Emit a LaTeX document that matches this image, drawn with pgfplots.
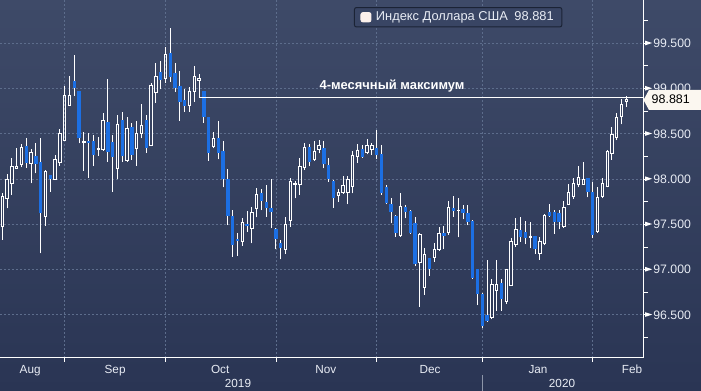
\documentclass[border=0pt]{standalone}
\usepackage{fontspec}
\setmainfont{Liberation Sans}
\usepackage{pgfplots}
\usepackage{pgfplotstable}
\pgfplotsset{compat=1.18}
\definecolor{bgtop}{HTML}{3E4A68}
\definecolor{bgbot}{HTML}{2A3554}
\definecolor{gridc}{HTML}{5D6D8C}
\definecolor{candleblue}{HTML}{1C6FE3}
\definecolor{txt}{HTML}{E8ECF4}
\definecolor{legsq}{HTML}{FCF1EC}
\definecolor{legfill}{HTML}{394564}
\definecolor{legdraw}{HTML}{1B2335}
\definecolor{tagfill}{HTML}{FBF7F0}
\definecolor{sepc}{HTML}{8C95A8}

\pgfplotstableread{
x O H L C
0 97.474 97.842 97.327 97.806
1 97.787 98.056 97.677 97.990
2 97.953 98.229 97.824 98.137
3 98.122 98.347 98.119 98.144
4 98.163 98.387 98.130 98.347
5 98.365 98.450 98.126 98.181
6 98.174 98.329 97.953 98.292
7 98.255 98.395 98.063 98.163
8 98.185 98.457 97.180 97.629
9 97.585 98.100 97.485 98.082
10 98.045 98.045 97.861 97.997
11 97.997 98.266 97.997 98.211
12 98.181 98.549 98.148 98.505
13 98.424 99.028 98.424 98.918
14 98.818 99.139 98.807 98.918
15 99.084 99.371 98.918 99.002
16 98.973 98.973 98.395 98.450
17 98.402 98.524 98.093 98.413
18 98.421 98.505 98.016 98.395
19 98.421 98.487 98.144 98.266
20 98.329 98.469 98.255 98.336
21 98.329 98.734 98.310 98.642
22 98.627 99.102 98.192 98.303
23 98.413 98.487 97.861 98.247
24 98.119 98.708 97.996 98.605
25 98.653 98.737 98.192 98.255
26 98.203 98.690 98.192 98.561
27 98.572 98.616 98.211 98.266
28 98.340 98.642 98.148 98.505
29 98.505 98.829 98.450 98.590
30 98.653 98.708 98.292 98.340
31 98.376 99.065 98.365 99.039
32 98.958 99.286 98.844 99.131
33 99.187 99.308 98.991 99.095
34 99.113 99.463 99.065 99.378
35 99.389 99.665 99.076 99.131
36 99.168 99.279 98.966 99.010
37 99.028 99.194 98.645 98.855
38 98.874 98.991 98.745 98.807
39 98.818 99.021 98.745 98.973
40 98.973 99.249 98.855 99.131
41 99.087 99.161 98.900 99.113
42 98.973 98.973 98.623 98.690
43 98.690 98.690 98.203 98.292
44 98.358 98.524 98.340 98.450
45 98.450 98.641 98.218 98.284
46 98.310 98.420 97.909 97.997
47 97.997 98.107 97.492 97.595
48 97.592 97.658 97.142 97.271
49 97.338 97.400 97.150 97.319
50 97.308 97.573 97.264 97.522
51 97.503 97.647 97.419 97.485
52 97.456 97.695 97.290 97.632
53 97.677 97.897 97.577 97.831
54 97.842 97.886 97.658 97.761
55 97.743 97.934 97.584 97.684
56 97.677 97.997 97.456 97.640
57 97.448 97.463 97.224 97.338
58 97.290 97.327 97.113 97.235
59 97.224 97.577 97.172 97.500
60 97.548 98.008 97.474 97.978
61 97.938 97.978 97.787 97.953
62 97.942 98.229 97.824 98.144
63 98.126 98.402 98.100 98.351
64 98.358 98.387 98.144 98.192
65 98.218 98.420 98.203 98.310
66 98.329 98.432 98.284 98.369
67 98.340 98.421 98.119 98.163
68 98.155 98.229 97.971 98.000
69 97.979 97.990 97.684 97.787
70 97.817 97.886 97.750 97.853
71 97.850 98.034 97.842 97.927
72 97.850 98.034 97.724 97.990
73 97.923 98.310 97.842 98.266
74 98.247 98.387 98.181 98.321
75 98.332 98.376 98.236 98.247
76 98.292 98.439 98.273 98.376
77 98.328 98.402 98.266 98.376
78 98.340 98.542 98.218 98.266
79 98.277 98.376 97.824 97.850
80 97.908 97.934 97.724 97.732
81 97.721 97.787 97.511 97.640
82 97.592 97.600 97.363 97.408
83 97.382 97.842 97.363 97.695
84 97.695 97.713 97.566 97.640
85 97.647 97.658 97.400 97.408
86 97.511 97.584 97.039 97.061
87 97.076 97.400 96.590 97.389
88 96.804 97.235 96.719 97.168
89 97.124 97.130 96.929 97.002
90 97.135 97.297 97.087 97.223
91 97.227 97.474 97.209 97.400
92 97.408 97.481 97.227 97.374
93 97.411 97.757 97.382 97.687
94 97.676 97.813 97.584 97.651
95 97.651 97.787 97.356 97.658
96 97.665 97.713 97.555 97.629
97 97.629 97.713 97.492 97.529
98 97.536 97.548 96.903 96.910
99 97.002 97.010 96.608 96.730
100 96.730 96.740 96.350 96.380
101 96.498 97.105 96.424 96.435
102 96.472 96.892 96.450 96.837
103 96.774 97.105 96.546 96.837
104 96.855 96.896 96.546 96.671
105 96.645 97.006 96.619 97.006
106 96.822 97.345 96.822 97.308
107 97.279 97.573 97.253 97.444
108 97.437 97.577 97.308 97.356
109 97.419 97.536 97.282 97.345
110 97.356 97.529 97.235 97.371
111 97.371 97.371 97.172 97.224
112 97.179 97.364 97.106 97.316
113 97.283 97.610 97.271 97.603
114 97.632 97.724 97.585 97.596
115 97.632 97.658 97.393 97.529
116 97.621 97.658 97.445 97.522
117 97.481 97.761 97.463 97.688
118 97.724 97.942 97.713 97.853
119 97.805 98.008 97.780 97.953
120 97.942 98.148 97.909 98.019
121 97.942 98.185 97.942 97.990
122 98.008 98.010 97.798 97.861
123 97.861 97.971 97.345 97.382
124 97.419 97.909 97.408 97.798
125 97.805 98.008 97.787 97.953
126 97.923 98.321 97.909 98.303
127 98.284 98.579 98.211 98.494
128 98.457 98.726 98.431 98.682
129 98.689 98.884 98.604 98.829
130 98.855 98.918 98.800 98.881
}\candles

\pgfplotsset{
  candlepart/.style={only marks, mark=*, mark size=0pt, mark options={draw=none, fill=none}, forget plot},
}

\begin{document}
\begin{tikzpicture}
\shade[top color=bgtop, bottom color=bgbot] (0,0) rectangle (701bp,391bp);
\useasboundingbox (0,0) rectangle (701bp,391bp);
\begin{axis}[
  at={(0bp,33bp)}, anchor=south west,
  scale only axis, width=643bp, height=358bp,
  xmin=-0.479, xmax=133.48, ymin=96.023, ymax=99.978,
  axis x line*=bottom, axis y line*=right,
  axis line style={white, line width=1bp},
  /pgf/number format/assume math mode=true,
  xtick={13,34,57,78,100,123}, xticklabels={},
  extra x ticks={5.8,23.5,45.4,67.4,89.1,111.6,131.2},
  extra x tick labels={Aug,Sep,Oct,Nov,Dec,Jan,Feb},
  extra x tick style={major tick length=0pt, grid=none,
    xticklabel style={anchor=base, yshift=-15.3bp, inner sep=0pt,
      font=\fontsize{11.8}{13}\selectfont, text=txt}},
  xmajorgrids, ymajorgrids,
  grid style={gridc, line width=0.8bp, dash pattern=on 1.6bp off 2.4bp},
  ytick={96.5,97,97.5,98,98.5,99,99.5},
  minor ytick={96.25,96.75,97.25,97.75,98.25,98.75,99.25,99.75},
  tick align=outside, major tick length=4bp, minor tick length=5bp,
  tick style={white, line width=0.8bp},
  yticklabel={\raisebox{2.2bp}{\tikz\fill[white] (0,0) -- (0,4.6bp) -- (7bp,2.3bp) -- cycle;}\hspace{1.2bp}\pgfmathprintnumber[fixed, fixed zerofill, precision=3]{\tick}},
  yticklabel style={anchor=west, inner sep=0pt, xshift=-2bp, font=\fontsize{12.3}{14}\selectfont, text=txt},
  legend style={at={(0.5505,0.9804)}, anchor=north west, fill=legfill, draw=legdraw,
    line width=1bp, rounded corners=2bp, font=\fontsize{12.9}{14}\selectfont,
    text=txt, inner xsep=6bp, inner ysep=2.5bp},
  legend cell align=left,
]
\addlegendimage{legend image code/.code={\fill[legsq] (0bp,-4.6bp) rectangle (10bp,4.6bp);}}
\addlegendentry{\hspace*{2.5bp}Индекс Доллара США\enspace 98.881}

% lower wicks
\addplot[candlepart, white, error bars/.cd, y dir=plus, y explicit, error mark=none,
  error bar style={white, line width=0.9bp}]
  table[x=x, y=L, y error plus expr={min(\thisrow{O},\thisrow{C})-\thisrow{L}}] \candles;
% upper wicks
\addplot[candlepart, white, error bars/.cd, y dir=plus, y explicit, error mark=none,
  error bar style={white, line width=0.9bp}]
  table[x=x, y expr={max(\thisrow{O},\thisrow{C})}, y error plus expr={\thisrow{H}-max(\thisrow{O},\thisrow{C})}] \candles;
% falling bodies (filled blue)
\addplot[candlepart, candleblue, restrict expr to domain={\thisrow{O}-\thisrow{C}}{0.000001:100},
  error bars/.cd, y dir=plus, y explicit, error mark=none,
  error bar style={candleblue, line width=3.3bp}]
  table[x=x, y=C, y error plus expr={\thisrow{O}-\thisrow{C}}] \candles;
% rising bodies (hollow): left and right sides
\addplot[candlepart, white, restrict expr to domain={\thisrow{C}-\thisrow{O}}{0:100},
  error bars/.cd, y dir=plus, y explicit, error mark=none,
  error bar style={white, line width=0.9bp, line cap=rect}]
  table[x expr={\thisrow{x}-0.24}, y=O, y error plus expr={\thisrow{C}-\thisrow{O}}] \candles;
\addplot[candlepart, white, restrict expr to domain={\thisrow{C}-\thisrow{O}}{0:100},
  error bars/.cd, y dir=plus, y explicit, error mark=none,
  error bar style={white, line width=0.9bp, line cap=rect}]
  table[x expr={\thisrow{x}+0.24}, y=O, y error plus expr={\thisrow{C}-\thisrow{O}}] \candles;
% rising bodies: bottom and top edges
\addplot[candlepart, white, restrict expr to domain={\thisrow{C}-\thisrow{O}}{0:100},
  error bars/.cd, x dir=both, x fixed=0.24, error mark=none,
  error bar style={white, line width=0.9bp, line cap=rect}]
  table[x=x, y=O] \candles;
\addplot[candlepart, white, restrict expr to domain={\thisrow{C}-\thisrow{O}}{0:100},
  error bars/.cd, x dir=both, x fixed=0.24, error mark=none,
  error bar style={white, line width=0.9bp, line cap=rect}]
  table[x=x, y=C] \candles;

% 4-month high line
\addplot[white, line width=1bp, forget plot] coordinates {(41,98.9) (133.48,98.9)};
\node[font=\bfseries\fontsize{13}{15}\selectfont, text=white] at (axis cs:81.2,99.03) {4-месячный максимум};
\end{axis}
% last value tag
\fill[tagfill] (643.5bp,291bp) -- (649bp,301bp) -- (701bp,301bp) -- (701bp,281bp) -- (649bp,281bp) -- cycle;
\node[anchor=west, inner sep=0pt, font=\fontsize{12.5}{14}\selectfont, text=black] at (651.5bp,291.5bp) {98.881};
% year labels and separator
\node[anchor=base, inner sep=0pt, font=\fontsize{11.8}{13}\selectfont, text=txt] at (238bp,3.7bp) {2019};
\node[anchor=base, inner sep=0pt, font=\fontsize{11.8}{13}\selectfont, text=txt] at (562bp,3.7bp) {2020};
\draw[sepc, line width=1bp] (482.4bp,0) -- (482.4bp,16bp);
\end{tikzpicture}
\end{document}
